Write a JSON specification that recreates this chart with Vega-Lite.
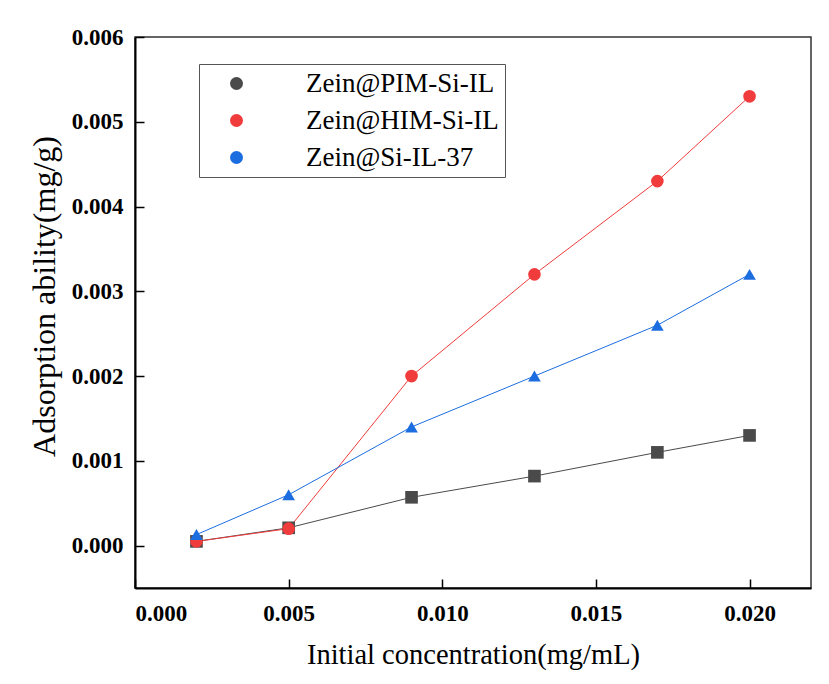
{
  "$schema": "https://vega.github.io/schema/vega-lite/v6.json",
  "width": 676,
  "height": 551,
  "padding": {"left": 27, "top": 26, "right": 5, "bottom": 5},
  "background": "white",
  "config": {
    "view": {"stroke": "#333333", "strokeWidth": 1.5},
    "font": "Liberation Serif"
  },
  "data": {
    "values": [
      {"series": "Zein@PIM-Si-IL", "conc": 0.002, "ads": 0.00005},
      {"series": "Zein@PIM-Si-IL", "conc": 0.005, "ads": 0.00021},
      {"series": "Zein@PIM-Si-IL", "conc": 0.009, "ads": 0.00057},
      {"series": "Zein@PIM-Si-IL", "conc": 0.013, "ads": 0.00082},
      {"series": "Zein@PIM-Si-IL", "conc": 0.017, "ads": 0.0011},
      {"series": "Zein@PIM-Si-IL", "conc": 0.020, "ads": 0.0013},
      {"series": "Zein@HIM-Si-IL", "conc": 0.002, "ads": 0.00005},
      {"series": "Zein@HIM-Si-IL", "conc": 0.005, "ads": 0.0002},
      {"series": "Zein@HIM-Si-IL", "conc": 0.009, "ads": 0.002},
      {"series": "Zein@HIM-Si-IL", "conc": 0.013, "ads": 0.0032},
      {"series": "Zein@HIM-Si-IL", "conc": 0.017, "ads": 0.0043},
      {"series": "Zein@HIM-Si-IL", "conc": 0.020, "ads": 0.0053},
      {"series": "Zein@Si-IL-37", "conc": 0.002, "ads": 0.00013},
      {"series": "Zein@Si-IL-37", "conc": 0.005, "ads": 0.0006},
      {"series": "Zein@Si-IL-37", "conc": 0.009, "ads": 0.0014},
      {"series": "Zein@Si-IL-37", "conc": 0.013, "ads": 0.002},
      {"series": "Zein@Si-IL-37", "conc": 0.017, "ads": 0.0026},
      {"series": "Zein@Si-IL-37", "conc": 0.020, "ads": 0.0032}
    ]
  },
  "resolve": {"axis": {"x": "independent", "y": "independent"}},
  "layer": [
    {
      "mark": {"type": "line", "strokeWidth": 1},
      "encoding": {
        "x": {
          "field": "conc", "type": "quantitative",
          "scale": {"domain": [0, 0.022], "nice": false, "zero": false},
          "axis": {
            "orient": "bottom",
            "title": "Initial concentration(mg/mL)",
            "values": [0, 0.005, 0.01, 0.015, 0.02],
            "format": ".3f",
            "grid": false, "ticks": false,
            "domainColor": "#000000", "domainWidth": 2,
            "labelPadding": 14,
            "labelFont": "Liberation Serif", "labelFontWeight": "bold", "labelFontSize": 23, "labelColor": "#000000",
            "titleFont": "Liberation Serif", "titleFontWeight": "normal", "titleFontSize": 28.5, "titleColor": "#000000",
            "titlePadding": 15
          }
        },
        "y": {
          "field": "ads", "type": "quantitative",
          "scale": {"domain": [-0.0005, 0.006], "nice": false, "zero": false},
          "axis": {
            "orient": "left",
            "title": "Adsorption ability(mg/g)",
            "values": [0, 0.001, 0.002, 0.003, 0.004, 0.005, 0.006],
            "format": ".3f",
            "grid": false, "ticks": false,
            "domainColor": "#000000", "domainWidth": 2,
            "labelPadding": 12,
            "labelFont": "Liberation Serif", "labelFontWeight": "bold", "labelFontSize": 23, "labelColor": "#000000",
            "titleFont": "Liberation Serif", "titleFontWeight": "normal", "titleFontSize": 32, "titleColor": "#000000",
            "titleX": -74, "titleY": 259
          }
        },
        "stroke": {
          "field": "series", "type": "nominal", "legend": null,
          "sort": ["Zein@PIM-Si-IL", "Zein@HIM-Si-IL", "Zein@Si-IL-37"],
          "scale": {"range": ["#4a4a4a", "#f03c3c", "#1c6de0"]}
        }
      }
    },
    {
      "mark": {"type": "point", "filled": true, "opacity": 1, "size": 160},
      "encoding": {
        "x": {
          "field": "conc", "type": "quantitative",
          "axis": {
            "orient": "top", "offset": -551, "title": "x", "titleOpacity": 0,
            "labels": true, "labelOpacity": 0, "domainOpacity": 0, "grid": false,
            "values": [0, 0.005, 0.01, 0.015, 0.02],
            "ticks": true, "tickSize": 9, "tickColor": "#000000", "tickWidth": 1.5
          }
        },
        "y": {
          "field": "ads", "type": "quantitative",
          "axis": {
            "orient": "right", "offset": -676, "title": "y", "titleOpacity": 0,
            "labels": true, "labelOpacity": 0, "domainOpacity": 0, "grid": false,
            "values": [0, 0.001, 0.002, 0.003, 0.004, 0.005, 0.006],
            "ticks": true, "tickSize": 9, "tickColor": "#000000", "tickWidth": 1.5
          }
        },
        "shape": {
          "field": "series", "type": "nominal",
          "sort": ["Zein@PIM-Si-IL", "Zein@HIM-Si-IL", "Zein@Si-IL-37"],
          "scale": {"range": ["square", "circle", "triangle-up"]},
          "legend": null
        },
        "color": {
          "field": "series", "type": "nominal",
          "sort": ["Zein@PIM-Si-IL", "Zein@HIM-Si-IL", "Zein@Si-IL-37"],
          "scale": {"range": ["#4a4a4a", "#f03c3c", "#1c6de0"]},
          "legend": {
            "title": null, "orient": "none", "legendX": 64, "legendY": 27,
            "strokeColor": "#555555", "padding": 6,
            "labelFontSize": 27, "labelColor": "#000000", "labelLimit": 400,
            "symbolSize": 169, "symbolOffset": 18, "labelOffset": 56, "rowPadding": 9,
            "encode": {
              "symbols": {
                "update": {
                  "shape": {"signal": "datum.value === 'Zein@PIM-Si-IL' ? 'M-4.3,0H4.3M-1,-1H1V1H-1Z' : datum.value === 'Zein@HIM-Si-IL' ? 'M-4.3,0H4.3M-1.05,0A1.05,1.05,0,1,0,1.05,0A1.05,1.05,0,1,0,-1.05,0Z' : 'M-4.3,0H4.3M0,-1.1L1.1,0.85L-1.1,0.85Z'"},
                  "stroke": {"signal": "scale('color', datum.value)"},
                  "fill": {"signal": "scale('color', datum.value)"},
                  "strokeWidth": {"value": 1},
                  "opacity": {"value": 1}
                }
              }
            }
          }
        }
      }
    }
  ]
}
